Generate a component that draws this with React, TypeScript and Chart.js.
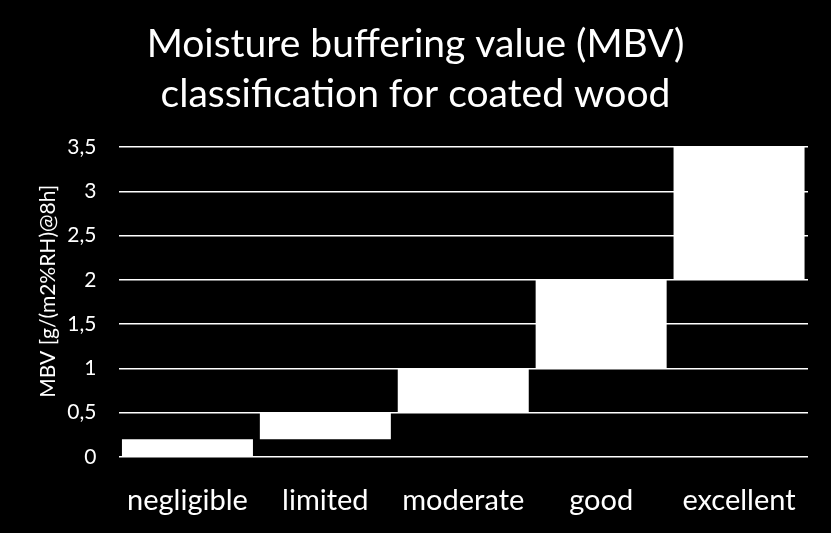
import React, { useEffect, useRef } from "react";
import { Chart, registerables } from "chart.js";

Chart.register(...registerables);

const categories = ["negligible", "limited", "moderate", "good", "excellent"];
const rangeLow = [0, 0.2, 0.5, 1, 2];
const rangeHigh = [0.2, 0.5, 1, 2, 3.5];
const titleLines = ["Moisture buffering value (MBV)", "classification for coated wood"];
const yAxisTitle = "    MBV [g/(m2%RH)@8h]";
const yMin = 0;
const yMax = 3.5;
const yStep = 0.5;

const FONT = "Lato, 'Open Sans', sans-serif";

export default function App() {
  const ref = useRef<HTMLCanvasElement | null>(null);

  useEffect(() => {
    if (!ref.current) return;
    const chart = new Chart(ref.current, {
      type: "bar",
      data: {
        labels: categories,
        datasets: [
          {
            data: categories.map((_, i) => [rangeLow[i], rangeHigh[i]]) as any,
            backgroundColor: "#ffffff",
            borderWidth: 0,
            barPercentage: 0.95,
            categoryPercentage: 1,
          },
        ],
      },
      options: {
        animation: false,
        responsive: true,
        maintainAspectRatio: false,
        layout: { padding: { left: 23, right: 23, top: 0, bottom: 0 } },
        plugins: {
          legend: { display: false },
          tooltip: { enabled: false },
          title: {
            display: true,
            text: titleLines,
            color: "#ffffff",
            font: { family: FONT, size: 39, weight: "normal", lineHeight: 50 / 39 },
            padding: { top: 19, bottom: 28 },
          },
        },
        scales: {
          x: {
            grid: { display: false, drawTicks: false },
            border: { display: false },
            ticks: {
              color: "#ffffff",
              font: { family: FONT, size: 29 },
              padding: 26,
              maxRotation: 0,
              autoSkip: false,
            },
            afterFit: (s: any) => {
              s.height = 76;
            },
          },
          y: {
            min: yMin,
            max: yMax,
            grid: { color: "#ffffff", lineWidth: 1.5, drawTicks: false },
            border: { display: false },
            ticks: {
              stepSize: yStep,
              color: "#ffffff",
              font: { family: FONT, size: 21 },
              padding: 22,
              callback: (v: any) => String(v).replace(".", ","),
            },
            title: {
              display: true,
              text: yAxisTitle,
              color: "#ffffff",
              font: { family: FONT, size: 21 },
              padding: { top: 13, bottom: 0 },
            },
            afterFit: (s: any) => {
              s.width = 95.5;
            },
          },
        },
      },
    });
    return () => chart.destroy();
  }, []);

  return (
    <div
      style={{
        position: "fixed",
        left: 0,
        top: 0,
        width: 831,
        height: 533,
        background: "#000000",
      }}
    >
      <canvas ref={ref} />
    </div>
  );
}
